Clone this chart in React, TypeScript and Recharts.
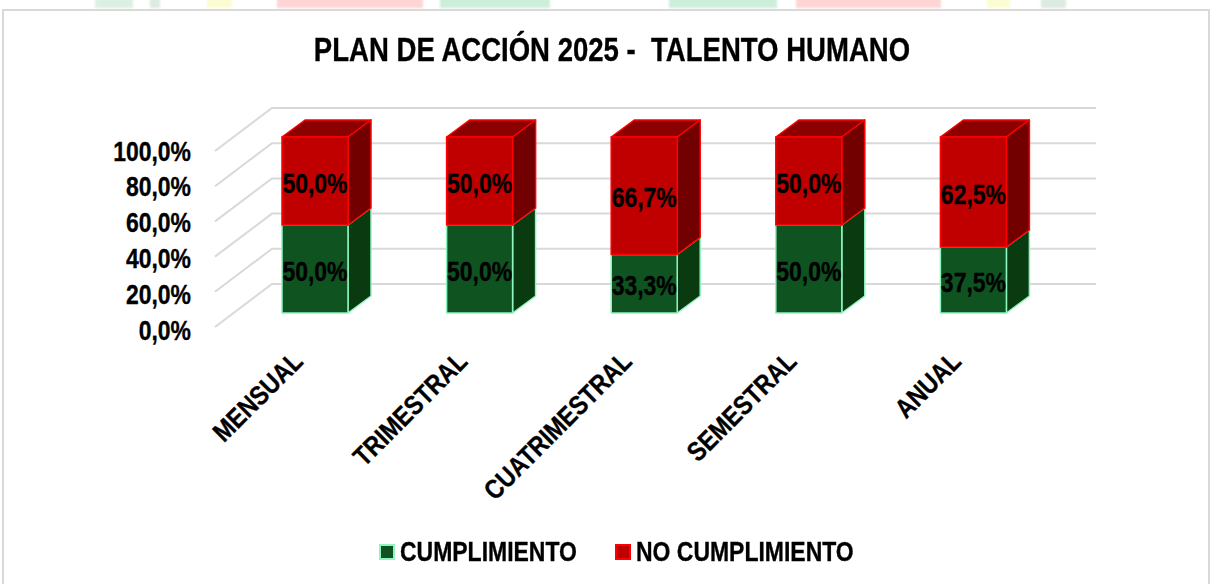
import React from "react";
import { BarChart, Bar, XAxis, YAxis, CartesianGrid, LabelList, Legend } from "recharts";

const categories = ["MENSUAL", "TRIMESTRAL", "CUATRIMESTRAL", "SEMESTRAL", "ANUAL"];
const cumplimiento = [50, 50, 33.3, 50, 37.5];
const noCumplimiento = [50, 50, 66.7, 50, 62.5];
const yTicks = [0, 20, 40, 60, 80, 100];
const title = "PLAN DE ACCIÓN 2025 -  TALENTO HUMANO";
const FONT = '"Liberation Sans", Arial, sans-serif';
const NARROW = 0.85;
const TITLE_NARROW = 0.81;
const LEGEND_NARROW = 0.82;
const HALO = { stroke: "#000", strokeWidth: 0.35 };

const data = categories.map((name, i) => ({ name, cumplimiento: cumplimiento[i], noCumplimiento: noCumplimiento[i] }));
const fmt = (v: number) => v.toFixed(1).replace(".", ",") + "%";

const DX = 23;
const DY = -17;

const box = (fill: string, top: string, side: string, stroke: string) => (p: any) => {
  const { x, y, width: w, height: h } = p;
  return (
    <g stroke={stroke} strokeWidth={1.5} strokeLinejoin="round">
      <path d={`M${x},${y} l${DX},${DY} h${w} l${-DX},${-DY} z`} fill={top} />
      <path d={`M${x + w},${y} l${DX},${DY} v${h} l${-DX},${-DY} z`} fill={side} />
      <rect x={x} y={y} width={w} height={h} fill={fill} />
    </g>
  );
};

const gridLine = (p: any) => {
  const { x1, x2, y1 } = p;
  return (
    <polyline
      key={y1}
      points={`${x1 - 18},${y1 + 14} ${x1 + 39},${y1 - 29} ${x2 + 40},${y1 - 29}`}
      fill="none"
      stroke="#d9d9d9"
      strokeWidth={2}
    />
  );
};

const yTick = (p: any) => {
  const v = p.payload.value;
  return (
    <text
      transform={`translate(191 ${p.y + 17 - (3 * v) / 100}) scale(${NARROW} 1)`}
      textAnchor="end"
      dominantBaseline="central"
      fontFamily={FONT}
      fontWeight={700}
      fontSize={27}
      fill="#000"
      {...HALO}
    >
      {fmt(v)}
    </text>
  );
};

const xTick = (p: any) => (
  <text
    transform={`translate(${p.x - 11} 363) rotate(-45) scale(${NARROW} 1)`}
    textAnchor="end"
    fontFamily={FONT}
    fontWeight={700}
    fontSize={27}
    fill="#000"
    {...HALO}
  >
    {p.payload.value}
  </text>
);

const barLabel = (p: any) => (
  <text
    transform={`translate(${p.x + p.width / 2} ${p.y + p.height / 2 + 2}) scale(${NARROW} 1)`}
    textAnchor="middle"
    dominantBaseline="central"
    fontFamily={FONT}
    fontWeight={700}
    fontSize={27}
    fill="#000"
    {...HALO}
  >
    {fmt(p.value)}
  </text>
);

const legendItems = [
  { label: "CUMPLIMIENTO", fill: "#0f5320", stroke: "#8ef5c0", w: 177 },
  { label: "NO CUMPLIMIENTO", fill: "#c00000", stroke: "#ff0000", w: 218 },
];

const legend = () => (
  <div style={{ display: "flex", justifyContent: "center", alignItems: "center", gap: 38, paddingLeft: 23, fontFamily: FONT, fontWeight: 700, fontSize: 28, lineHeight: "32px", color: "#000", whiteSpace: "nowrap", WebkitTextStroke: "0.35px #000" }}>
    {legendItems.map((it) => (
      <span key={it.label} style={{ display: "flex", alignItems: "center", gap: 5 }}>
        <span style={{ width: 12, height: 12, background: it.fill, border: `2px solid ${it.stroke}`, display: "inline-block" }} />
        <span style={{ display: "inline-block", width: it.w, transform: `scaleX(${LEGEND_NARROW})`, transformOrigin: "left center" }}>{it.label}</span>
      </span>
    ))}
  </div>
);

// faint remains of the slide's background picture, above the chart frame
const backdrop = [
  { left: 95, width: 38, color: "#dcefe3" },
  { left: 150, width: 10, color: "#dcebe1" },
  { left: 207, width: 25, color: "#fcfcd2" },
  { left: 277, width: 146, color: "#fdd5d5" },
  { left: 440, width: 110, color: "#cdeeda" },
  { left: 669, width: 108, color: "#cdeeda" },
  { left: 796, width: 145, color: "#fdd5d5" },
  { left: 987, width: 23, color: "#fcfcd2" },
  { left: 1041, width: 25, color: "#dcebe1" },
];

export default function App() {
  return (
    <div style={{ position: "absolute", left: 0, top: 0, width: 1210, height: 584, overflow: "hidden", background: "#fff" }}>
      {backdrop.map((b) => (
        <div key={b.left} style={{ position: "absolute", left: b.left, width: b.width, top: -2, height: 10, background: b.color, filter: "blur(1px)" }} />
      ))}
      <div style={{ position: "absolute", left: 2, top: 9, width: 1204, height: 580, border: "2px solid #d9d9d9", background: "#fff" }} />
      <div style={{ position: "absolute", left: 7, width: 1210, top: 29, textAlign: "center", transform: `scaleX(${TITLE_NARROW})`, fontFamily: FONT, fontWeight: 700, fontSize: 34, lineHeight: "40px", color: "#000", whiteSpace: "pre", WebkitTextStroke: "0.35px #000" }}>
        {title}
      </div>
      <BarChart
        width={1210}
        height={584}
        data={data}
        margin={{ top: 137, left: 173, right: 154, bottom: 139 }}
        barSize={66}
        style={{ position: "absolute", left: 0, top: 0 }}
      >
        <CartesianGrid vertical={false} horizontal={gridLine} />
        <XAxis dataKey="name" axisLine={false} tickLine={false} tick={xTick} interval={0} height={100} />
        <YAxis domain={[0, 100]} ticks={yTicks} axisLine={false} tickLine={false} tick={yTick} width={60} />
        <Legend content={legend} wrapperStyle={{ left: 0, width: 1210, top: 536, bottom: "auto" }} />
        <Bar dataKey="cumplimiento" stackId="a" isAnimationActive={false} shape={box("#0f5320", "#0f5320", "#0a3a10", "#8ef5c0")}>
          <LabelList dataKey="cumplimiento" content={barLabel} />
        </Bar>
        <Bar dataKey="noCumplimiento" stackId="a" isAnimationActive={false} shape={box("#c00000", "#8b0000", "#730000", "#ff0000")}>
          <LabelList dataKey="noCumplimiento" content={barLabel} />
        </Bar>
      </BarChart>
    </div>
  );
}
